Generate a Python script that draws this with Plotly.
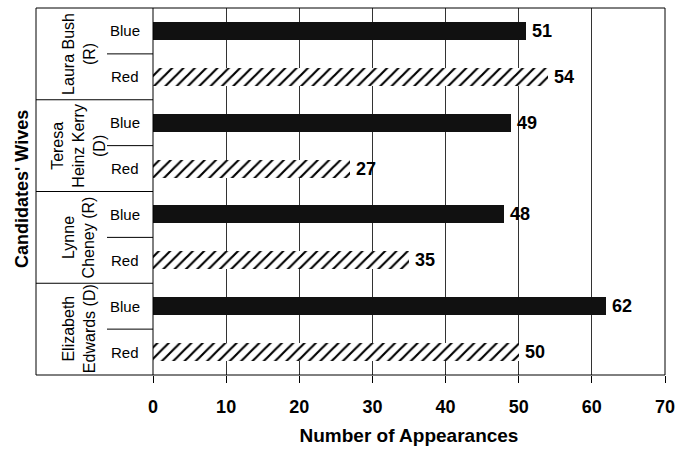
import plotly.graph_objects as go

wives = ["Laura Bush<br>(R)", "Teresa<br>Heinz Kerry<br>(D)", "Lynne<br>Cheney (R)", "Elizabeth<br>Edwards (D)"]
segments = ["Blue", "Red"]
blue_values = [51, 49, 48, 62]
red_values = [54, 27, 35, 50]
x_ticks = [0, 10, 20, 30, 40, 50, 60, 70]

FONT = "Liberation Sans, Arial, Helvetica, sans-serif"

# row positions
blue_pos = [2 * i for i in range(len(wives))]
red_pos = [2 * i + 1 for i in range(len(wives))]

fig = go.Figure()
fig.add_trace(go.Bar(
    y=blue_pos, x=blue_values, orientation="h", width=0.39,
    marker=dict(color="#111111", line=dict(width=0)),
    showlegend=False, hoverinfo="x",
))
fig.add_trace(go.Bar(
    y=red_pos, x=red_values, orientation="h", width=0.39,
    marker=dict(color="white", line=dict(width=0),
                pattern=dict(shape="/", fgcolor="#000000", bgcolor="white", size=8,
                             solidity=0.27, fgopacity=1, fillmode="replace")),
    showlegend=False, hoverinfo="x",
))

# plot area geometry (pixels)
L, R, T, B = 153, 14, 8, 78
W = 679 - L - R
H = 453 - T - B

def px(xp):
    return (xp - L) / W

def py(yp):
    return (453 - B - yp) / H

ann = []
for vals, pos in ((blue_values, blue_pos), (red_values, red_pos)):
    for v, p in zip(vals, pos):
        ann.append(dict(x=v, y=p, xref="x", yref="y", text=f"<b>{v}</b>", showarrow=False,
                        xanchor="left", xshift=4, font=dict(size=18, color="black", family=FONT)))

for i, w in enumerate(wives):
    ann.append(dict(x=px(79), y=2 * i + 0.5, xref="paper", yref="y", text=w, showarrow=False,
                    xanchor="center", yanchor="middle",
                    textangle=-90, font=dict(size=16, color="black", family=FONT)))
    for j, s in enumerate(segments):
        ann.append(dict(x=px(125), y=2 * i + j, xref="paper", yref="y", text=s, showarrow=False,
                        xanchor="center", yanchor="middle",
                        font=dict(size=15, color="black", family=FONT)))

ann.append(dict(x=px(22), y=py(189), xref="paper", yref="paper", text="<b>Candidates' Wives</b>",
                xanchor="center", yanchor="middle",
                showarrow=False, textangle=-90, font=dict(size=18, color="black", family=FONT)))

shapes = []
line = dict(color="black", width=1)
# outer frame
shapes.append(dict(type="line", xref="paper", yref="paper", x0=px(36), x1=1, y0=1, y1=1, line=line))
shapes.append(dict(type="line", xref="paper", yref="paper", x0=px(36), x1=1, y0=0, y1=0, line=line))
shapes.append(dict(type="line", xref="paper", yref="paper", x0=px(36), x1=px(36), y0=0, y1=1, line=line))
shapes.append(dict(type="line", xref="paper", yref="paper", x0=1, x1=1, y0=0, y1=1, line=line))
shapes.append(dict(type="line", xref="paper", yref="paper", x0=0, x1=0, y0=0, y1=1, line=line))
# dividers
for i in range(len(wives)):
    shapes.append(dict(type="line", xref="paper", yref="y", x0=px(107), x1=0,
                       y0=2 * i + 0.5, y1=2 * i + 0.5, line=line))
    if i > 0:
        shapes.append(dict(type="line", xref="paper", yref="y", x0=px(36), x1=0,
                           y0=2 * i - 0.5, y1=2 * i - 0.5, line=line))

fig.update_layout(
    width=679, height=453,
    margin=dict(l=L, r=R, t=T, b=B, pad=0, autoexpand=False),
    paper_bgcolor="white", plot_bgcolor="white",
    bargap=0, barmode="overlay",
    annotations=ann, shapes=shapes,
    font=dict(family=FONT, color="black"),
    xaxis=dict(range=[0, 70], tickvals=x_ticks, ticktext=[f"<b>{t}</b>" for t in x_ticks],
               showgrid=True, gridcolor="#333333", gridwidth=1,
               ticks="outside", ticklen=7, tickcolor="black", tickwidth=1,
               tickfont=dict(size=18, family=FONT, color="black"), ticklabelstandoff=8,
               showline=False, zeroline=False, automargin=False,
               title=dict(text="<b>Number of Appearances</b>", font=dict(size=19, family=FONT, color="black"),
                          standoff=13)),
    yaxis=dict(range=[7.5, -0.5], showticklabels=False, showgrid=False, zeroline=False,
               showline=False, ticks="", automargin=False),
)

fig.write_html("out.html", config={"displayModeBar": False},
               post_script="document.body.style.margin='0';document.body.style.padding='0';")
